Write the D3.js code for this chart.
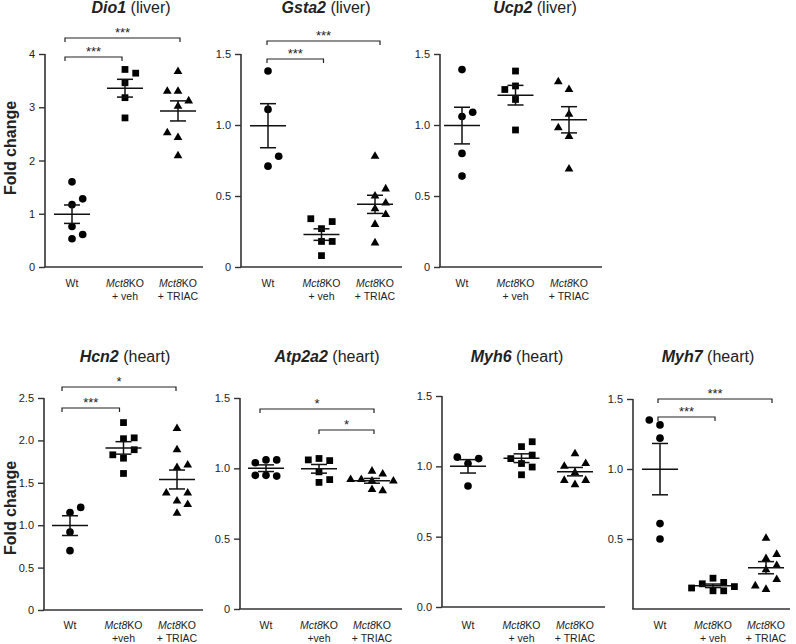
<!DOCTYPE html>
<html><head><meta charset="utf-8">
<script src="https://cdn.jsdelivr.net/npm/d3@7"></script>
<style>
body{margin:0;background:#fff}
svg{display:block}
text{font-family:"Liberation Sans",Arial,Helvetica,sans-serif;fill:#222}
</style>
</head><body>
<svg id="c" width="796" height="644"></svg>
<script>
// ---------------- data ----------------
const categories = ["Wt", "Mct8KO + veh", "Mct8KO + TRIAC"];
const shapes = ["circle", "square", "triangle"];

// Dio1 (liver)
const dio1Wt    = [1.60, 1.17, 0.76, 0.53, 1.28, 0.61];
const dio1Veh   = [3.71, 3.46, 3.18, 2.80, 3.64];
const dio1Triac = [3.67, 3.30, 3.02, 2.43, 2.09, 3.30, 3.12, 2.52];
const dio1Ticks = [0, 1, 2, 3, 4];
const dio1TickLabels = ["0", "1", "2", "3", "4"];
const dio1Sig = [{from: 0, to: 2, label: "***"}, {from: 0, to: 1, label: "***"}];

// Gsta2 (liver)
const gsta2Wt    = [1.38, 1.11, 0.71, 0.78];
const gsta2Veh   = [0.27, 0.08, 0.32, 0.34, 0.18, 0.18];
const gsta2Triac = [0.78, 0.50, 0.41, 0.30, 0.17, 0.45, 0.55, 0.37];
const gsta2Ticks = [0, 0.5, 1, 1.5];
const gsta2TickLabels = ["0", "0.5", "1.0", "1.5"];
const gsta2Sig = [{from: 0, to: 2, label: "***"}, {from: 0, to: 1, label: "***"}];

// Ucp2 (liver)
const ucp2Wt    = [1.39, 1.06, 0.80, 0.64, 1.09];
const ucp2Veh   = [1.38, 1.275, 1.18, 0.965, 1.25];
const ucp2Triac = [1.25, 1.075, 0.92, 0.69, 1.305, 0.98];
const ucp2Ticks = [0, 0.5, 1, 1.5];
const ucp2TickLabels = ["0", "0.5", "1.0", "1.5"];
const ucp2Sig = [];

// Hcn2 (heart)
const hcn2Wt    = [1.15, 0.92, 0.70, 1.21];
const hcn2Veh   = [2.21, 2.02, 1.79, 1.61, 2.03, 1.89, 1.83];
const hcn2Triac = [2.14, 1.89, 1.68, 1.285, 1.14, 1.71, 1.38, 1.38, 1.245];
const hcn2Ticks = [0, 0.5, 1, 1.5, 2, 2.5];
const hcn2TickLabels = ["0", "0.5", "1.0", "1.5", "2.0", "2.5"];
const hcn2Sig = [{from: 0, to: 2, label: "*"}, {from: 0, to: 1, label: "***"}];

// Atp2a2 (heart)
const atp2a2Wt    = [1.06, 1.06, 1.04, 0.95, 0.945, 0.95];
const atp2a2Veh   = [0.975, 1.07, 1.055, 1.06, 0.90, 0.92];
const atp2a2Triac = [0.98, 0.96, 0.92, 0.91, 0.92, 0.91, 0.84, 0.85];
const atp2a2Ticks = [0, 0.5, 1, 1.5];
const atp2a2TickLabels = ["0", "0.5", "1.0", "1.5"];
const atp2a2Sig = [{from: 0, to: 2, label: "*"}, {from: 1, to: 2, label: "*"}];

// Myh6 (heart)
const myh6Wt    = [1.02, 0.86, 1.055, 1.065];
const myh6Veh   = [1.14, 1.02, 0.94, 1.175, 1.08, 0.995, 1.055];
const myh6Triac = [1.09, 0.955, 0.87, 1.02, 1.00, 0.90, 0.90];
const myh6Ticks = [0, 0.5, 1, 1.5];
const myh6TickLabels = ["0.0", "0.5", "1.0", "1.5"];
const myh6Sig = [];

// Myh7 (heart)
const myh7Wt    = [1.315, 1.22, 0.61, 0.50, 1.35];
const myh7Veh   = [0.22, 0.19, 0.18, 0.16, 0.15, 0.13, 0.13];
const myh7Triac = [0.505, 0.36, 0.28, 0.14, 0.39, 0.31, 0.21, 0.165];
const myh7Ticks = [0.5, 1, 1.5];
const myh7TickLabels = ["0.5", "1.0", "1.5"];
const myh7Sig = [{from: 0, to: 2, label: "***"}, {from: 0, to: 1, label: "***"}];

// ---------------- layout ----------------
const panels = [
  {gene: "Dio1", tissue: "liver", groups: [dio1Wt, dio1Veh, dio1Triac], ticks: dio1Ticks, tickLabels: dio1TickLabels, sig: dio1Sig,
   max: 4, x0: 45, x1: 203, cx: [72, 178], yTop: 54, yBot: 267, titleX: 131, titleY: 13, lab1: 287, lab2: 299.5, veh: "+ veh",
   sigY: [38, 57], sigDx: [[-7, 2], [-7, -3]], ylab: 148, side: [1, 1, -1]},
  {gene: "Gsta2", tissue: "liver", groups: [gsta2Wt, gsta2Veh, gsta2Triac], ticks: gsta2Ticks, tickLabels: gsta2TickLabels, sig: gsta2Sig,
   max: 1.5, x0: 241, x1: 402, cx: [268, 375], yTop: 54, yBot: 267, titleX: 326, titleY: 13, lab1: 287, lab2: 299.5, veh: "+ veh",
   sigY: [41, 59], sigDx: [[-1, 5], [-1, 2]], side: [1, 1, 1]},
  {gene: "Ucp2", tissue: "liver", groups: [ucp2Wt, ucp2Veh, ucp2Triac], ticks: ucp2Ticks, tickLabels: ucp2TickLabels, sig: ucp2Sig,
   max: 1.5, x0: 440, x1: 602, cx: [462, 569], yTop: 54, yBot: 267, titleX: 535, titleY: 13, lab1: 287, lab2: 299.5, veh: "+ veh",
   sigY: [], sigDx: [], side: [1, -1, -1]},
  {gene: "Hcn2", tissue: "heart", groups: [hcn2Wt, hcn2Veh, hcn2Triac], ticks: hcn2Ticks, tickLabels: hcn2TickLabels, sig: hcn2Sig,
   max: 2.5, x0: 44, x1: 203, cx: [70, 177], yTop: 398, yBot: 610, titleX: 125, titleY: 361.5, lab1: 629, lab2: 642, veh: "+veh",
   sigY: [387, 408], sigDx: [[-8, -1], [-8, -4]], ylab: 508, side: [1, 1, 1]},
  {gene: "Atp2a2", tissue: "heart", groups: [atp2a2Wt, atp2a2Veh, atp2a2Triac], ticks: atp2a2Ticks, tickLabels: atp2a2TickLabels, sig: atp2a2Sig,
   max: 1.5, x0: 240, x1: 402, cx: [266, 372], yTop: 398, yBot: 609, titleX: 327, titleY: 361.5, lab1: 629, lab2: 642, veh: "+veh",
   sigY: [409, 430], sigDx: [[-6, 2], [0, 2]], side: [1, 1, 1]},
  {gene: "Myh6", tissue: "heart", groups: [myh6Wt, myh6Veh, myh6Triac], ticks: myh6Ticks, tickLabels: myh6TickLabels, sig: myh6Sig,
   max: 1.5, x0: 442, x1: 605, cx: [468, 575], yTop: 396, yBot: 607, titleX: 517, titleY: 361.5, lab1: 629, lab2: 642, veh: "+ veh",
   sigY: [], sigDx: [], side: [1, 1, 1]},
  {gene: "Myh7", tissue: "heart", groups: [myh7Wt, myh7Veh, myh7Triac], ticks: myh7Ticks, tickLabels: myh7TickLabels, sig: myh7Sig,
   max: 1.5, x0: 633, x1: 790, cx: [660, 766], yTop: 399, yBot: 609, titleX: 708, titleY: 361.5, lab1: 629, lab2: 642, veh: "+ veh",
   sigY: [399, 417], sigDx: [[-2, 6], [-2, 2]], side: [-1, 1, 1]}
];

const svg = d3.select("#c");
svg.append("rect").attr("width", 796).attr("height", 644).attr("fill", "#fff");

const STEP = 10.7, THR = 10.5;
const symbolFor = {
  circle: d3.symbol(d3.symbolCircle, 46),
  square: d3.symbol(d3.symbolSquare, 46),
  triangle: d3.symbol(d3.symbolTriangle, 33)
};

function swarm(vals, y, cx, side) {
  const placed = [];
  const cands = [0, side, -side, 2 * side, -2 * side];
  vals.forEach(v => {
    const py = y(v);
    let best = null, bestD = -1;
    for (const k of cands) {
      const px = cx + k * STEP;
      const d = placed.length ? d3.min(placed, p => Math.hypot(p.x - px, p.y - py)) : Infinity;
      if (d >= THR) { best = px; bestD = d; break; }
      if (d > bestD + 2) { bestD = d; best = px; }
    }
    placed.push({x: best, y: py, v});
  });
  return placed;
}

panels.forEach(P => {
  const g = svg.append("g");
  const y = d3.scaleLinear().domain([0, P.max]).range([P.yBot, P.yTop]);
  const x = d3.scalePoint().domain(categories).range(P.cx);

  // y axis
  const yAxis = d3.axisLeft(y).tickValues(P.ticks)
    .tickFormat((d, i) => P.tickLabels[i]).tickSize(6).tickPadding(4).tickSizeOuter(0);
  const ya = g.append("g").attr("transform", `translate(${P.x0},0)`).call(yAxis);
  ya.select(".domain").remove();
  ya.selectAll(".tick line").attr("stroke", "#333").attr("stroke-width", 1.4);
  ya.selectAll(".tick text").attr("font-size", 11).attr("fill", "#222")
    .style("font-family", "'Liberation Sans',Arial,sans-serif");
  g.append("line").attr("x1", P.x0).attr("x2", P.x0).attr("y1", y(P.max)).attr("y2", y(0))
    .attr("stroke", "#333").attr("stroke-width", 1.6);
  // x axis
  const xa = d3.axisBottom(x).tickSize(0).tickFormat("");
  const xg = g.append("g").attr("transform", `translate(0,${y(0)})`).call(xa);
  xg.select(".domain").remove();
  g.append("line").attr("x1", P.x0 - 0.8).attr("x2", P.x1).attr("y1", y(0)).attr("y2", y(0))
    .attr("stroke", "#333").attr("stroke-width", 1.6);

  // x labels
  categories.forEach((c, i) => {
    const cxp = x(c);
    if (i === 0) {
      g.append("text").attr("x", cxp).attr("y", P.lab1).attr("text-anchor", "middle")
        .attr("font-size", 10.5).text("Wt");
    } else {
      const t = g.append("text").attr("x", cxp).attr("y", P.lab1).attr("text-anchor", "middle").attr("font-size", 10.5);
      t.append("tspan").attr("font-style", "italic").text("Mct8");
      t.append("tspan").text("KO");
      g.append("text").attr("x", cxp).attr("y", P.lab2).attr("text-anchor", "middle").attr("font-size", 10.5)
        .text(i === 1 ? P.veh : "+ TRIAC");
    }
  });

  // title
  const tt = g.append("text").attr("x", P.titleX).attr("y", P.titleY).attr("text-anchor", "middle")
    .attr("font-size", 16).attr("fill", "#111");
  tt.append("tspan").attr("font-weight", "bold").attr("font-style", "italic").text(P.gene);
  tt.append("tspan").text(" (" + P.tissue + ")");

  // y label
  if (P.ylab) {
    g.append("text").attr("transform", `translate(16,${P.ylab}) rotate(-90)`)
      .attr("text-anchor", "middle").attr("font-size", 16).attr("font-weight", "bold")
      .attr("fill", "#111").text("Fold change");
  }

  // points and mean ± SEM
  P.groups.forEach((vals, i) => {
    const cxp = x(categories[i]);
    const pts = swarm(vals, y, cxp, P.side[i]);
    g.selectAll(null).data(pts).enter().append("path")
      .attr("d", symbolFor[shapes[i]]())
      .attr("transform", d => `translate(${d.x},${d.y})`)
      .attr("fill", "#000");
    const m = d3.mean(vals);
    const sem = d3.deviation(vals) / Math.sqrt(vals.length);
    const ln = (x1, x2, y1, y2) => g.append("line").attr("x1", x1).attr("x2", x2).attr("y1", y1).attr("y2", y2)
      .attr("stroke", "#111").attr("stroke-width", 1.5);
    ln(cxp - 18, cxp + 18, y(m), y(m));
    ln(cxp, cxp, y(m - sem), y(m + sem));
    ln(cxp - 8, cxp + 8, y(m + sem), y(m + sem));
    ln(cxp - 8, cxp + 8, y(m - sem), y(m - sem));
  });

  // significance brackets
  P.sig.forEach((s, k) => {
    const by = P.sigY[k];
    const xa1 = x(categories[s.from]) + P.sigDx[k][0];
    const xa2 = x(categories[s.to]) + P.sigDx[k][1];
    g.append("path").attr("d", `M${xa1},${by + 4}V${by}H${xa2}V${by + 4}`)
      .attr("fill", "none").attr("stroke", "#222").attr("stroke-width", 1.2);
    g.append("text").attr("x", (xa1 + xa2) / 2).attr("y", by - 1).attr("text-anchor", "middle")
      .attr("font-size", 13).attr("fill", "#333").text(s.label);
  });
});
</script>
</body></html>
